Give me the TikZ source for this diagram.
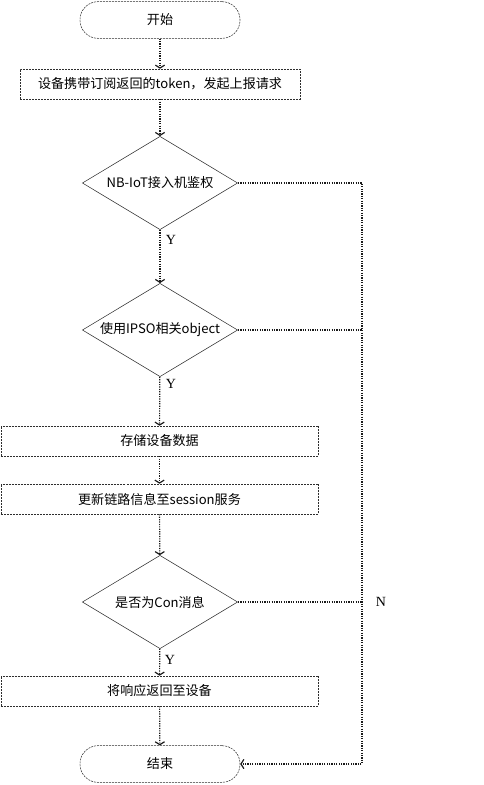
\documentclass[tikz,border=0pt]{standalone}
\usepackage{fontspec}
\setmainfont{Noto Sans CJK SC}
\newfontfamily\yesnofont{Liberation Serif}
\usetikzlibrary{arrows.meta,shapes.geometric}
\definecolor{FlowInk}{HTML}{1A1A1A}
\definecolor{BorderGray}{HTML}{2E2E2E}
\tikzset{
  terminal/.style={draw=BorderGray,dash pattern=on 1.5pt off 0.75pt,rounded corners=13.5pt,
    minimum width=120pt,minimum height=27.5pt,inner sep=0pt,font=\fontsize{9.8}{12}\selectfont},
  stepbox/.style={draw=BorderGray,dash pattern=on 1.5pt off 0.75pt,
    minimum height=22.5pt,inner sep=0pt,font=\fontsize{9.8}{12}\selectfont},
  decision/.style={diamond,aspect=1.67,draw=BorderGray,thin,minimum width=116.5pt,minimum height=70pt,
    inner sep=0pt,font=\fontsize{9.8}{12}\selectfont},
  flow/.style={-{Straight Barb[length=2.2pt,width=7pt]},line width=0.9pt,dash pattern=on 0.9pt off 0.9pt,draw=FlowInk},
  branch/.style={line width=0.9pt,dash pattern=on 0.9pt off 0.9pt,draw=FlowInk},
  answer/.style={font=\yesnofont\fontsize{10.5}{12}\selectfont,inner sep=0pt}
}

\begin{document}
\begin{tikzpicture}[x=0.75pt,y=-0.75pt]
  \useasboundingbox (0,0) rectangle (484,785);
  \node[terminal] (start) at (160,20) {开始};
  \node[stepbox,minimum width=210pt] (token) at (160,84) {设备携带订阅返回的token，发起上报请求};
  \node[decision] (auth) at (160,183) {NB-IoT接入机鉴权};
  \node[decision] (ipso) at (160,330) {使用IPSO相关object};
  \node[stepbox,minimum width=238pt] (store) at (159.5,441) {存储设备数据};
  \node[stepbox,minimum width=238pt] (session) at (159.5,499) {更新链路信息至session服务};
  \node[decision] (con) at (160,602) {是否为Con消息};
  \node[stepbox,minimum width=238pt] (reply) at (159.5,691) {将响应返回至设备};
  \node[terminal] (finish) at (160,764) {结束};
  \coordinate (rail) at (362,183);
  \draw[flow] (start) -- (token);
  \draw[flow] (token) -- (auth);
  \draw[flow] (auth) -- (ipso);
  \draw[flow] (ipso) -- (store);
  \draw[flow] (store) -- (session);
  \draw[flow] (session) -- (con);
  \draw[flow] (con) -- (reply);
  \draw[flow] (reply) -- (finish);
  \draw[flow] (auth.east) -- (rail) |- (finish.east);
  \draw[branch] (ipso.east) -- (ipso.east -| rail);
  \draw[branch] (con.east) -- (con.east -| rail);
  \node[answer] (yauth) at (171,240) {Y};
  \node[answer] (yipso) at (171,384) {Y};
  \node[answer] (ycon) at (170,660) {Y};
  \node[answer] (ncon) at (381,602) {N};
\end{tikzpicture}
\end{document}
